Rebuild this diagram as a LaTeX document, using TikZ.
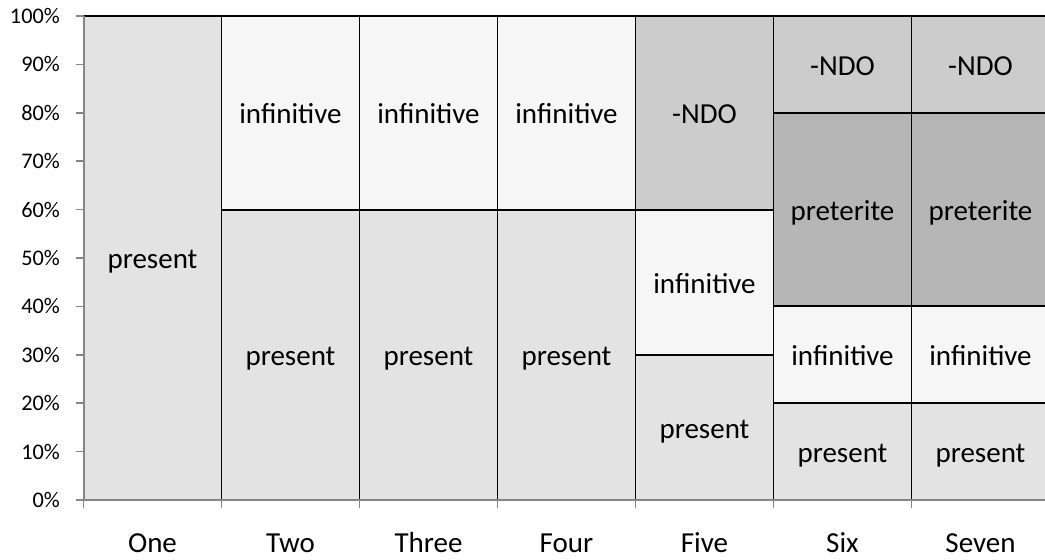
\documentclass[tikz,border=0pt]{standalone}
\usepackage{fontspec}
\setmainfont{Carlito}
\usepackage{tikz}

\definecolor{presentgray}{RGB}{227,227,227}
\definecolor{infgray}{RGB}{246,246,246}
\definecolor{ndogray}{RGB}{204,204,204}
\definecolor{pretgray}{RGB}{182,182,182}
\definecolor{axisgray}{RGB}{134,134,134}

\begin{document}
\begin{tikzpicture}[x=1pt, y=1pt, line join=round,
    seg/.style={draw=black, line width=1.9pt},
    axis/.style={draw=axisgray, line width=2pt},
    tick/.style={draw=axisgray, line width=1.5pt},
    lbl/.style={font=\fontsize{29}{34}\selectfont, anchor=base, yshift=-11, inner sep=0pt},
    catlbl/.style={font=\fontsize{29}{34}\selectfont, anchor=base, inner sep=0pt},
    ylbl/.style={font=\fontsize{22.3}{27}\selectfont, anchor=base east, inner sep=0pt}]
      \def\xo{83.5}
      \def\yo{60}
      \def\w{138}
      \def\h{4.84}

      \useasboundingbox (0,0) rectangle (1045,560);

      \pgfmathsetmacro\xa{\xo}
      \pgfmathsetmacro\xb{\xo+\w}
      \pgfmathsetmacro\xc{\xo+2*\w}
      \pgfmathsetmacro\xd{\xo+3*\w}
      \pgfmathsetmacro\xe{\xo+4*\w}
      \pgfmathsetmacro\xf{\xo+5*\w}
      \pgfmathsetmacro\xg{\xo+6*\w}

      % Column One
      \draw[seg, fill=presentgray] (\xa,\yo) rectangle (\xa+\w,\yo+100*\h);
      \node[lbl] (onepresent) at (\xa+0.5*\w,\yo+50*\h) {present};

      % Column Two
      \draw[seg, fill=presentgray] (\xb,\yo) rectangle (\xb+\w,\yo+60*\h);
      \draw[seg, fill=infgray] (\xb,\yo+60*\h) rectangle (\xb+\w,\yo+100*\h);
      \node[lbl] (twopresent) at (\xb+0.5*\w,\yo+30*\h) {present};
      \node[lbl] (twoinf) at (\xb+0.5*\w,\yo+80*\h) {infinitive};

      % Column Three
      \draw[seg, fill=presentgray] (\xc,\yo) rectangle (\xc+\w,\yo+60*\h);
      \draw[seg, fill=infgray] (\xc,\yo+60*\h) rectangle (\xc+\w,\yo+100*\h);
      \node[lbl] (threepresent) at (\xc+0.5*\w,\yo+30*\h) {present};
      \node[lbl] (threeinf) at (\xc+0.5*\w,\yo+80*\h) {infinitive};

      % Column Four
      \draw[seg, fill=presentgray] (\xd,\yo) rectangle (\xd+\w,\yo+60*\h);
      \draw[seg, fill=infgray] (\xd,\yo+60*\h) rectangle (\xd+\w,\yo+100*\h);
      \node[lbl] (fourpresent) at (\xd+0.5*\w,\yo+30*\h) {present};
      \node[lbl] (fourinf) at (\xd+0.5*\w,\yo+80*\h) {infinitive};

      % Column Five
      \draw[seg, fill=presentgray] (\xe,\yo) rectangle (\xe+\w,\yo+30*\h);
      \draw[seg, fill=infgray] (\xe,\yo+30*\h) rectangle (\xe+\w,\yo+60*\h);
      \draw[seg, fill=ndogray] (\xe,\yo+60*\h) rectangle (\xe+\w,\yo+100*\h);
      \node[lbl] (fivepresent) at (\xe+0.5*\w,\yo+15*\h) {present};
      \node[lbl] (fiveinf) at (\xe+0.5*\w,\yo+45*\h) {infinitive};
      \node[lbl] (fivendo) at (\xe+0.5*\w,\yo+80*\h) {-NDO};

      % Column Six
      \draw[seg, fill=presentgray] (\xf,\yo) rectangle (\xf+\w,\yo+20*\h);
      \draw[seg, fill=infgray] (\xf,\yo+20*\h) rectangle (\xf+\w,\yo+40*\h);
      \draw[seg, fill=pretgray] (\xf,\yo+40*\h) rectangle (\xf+\w,\yo+80*\h);
      \draw[seg, fill=ndogray] (\xf,\yo+80*\h) rectangle (\xf+\w,\yo+100*\h);
      \node[lbl] (sixpresent) at (\xf+0.5*\w,\yo+10*\h) {present};
      \node[lbl] (sixinf) at (\xf+0.5*\w,\yo+30*\h) {infinitive};
      \node[lbl] (sixpret) at (\xf+0.5*\w,\yo+60*\h) {preterite};
      \node[lbl] (sixndo) at (\xf+0.5*\w,\yo+90*\h) {-NDO};

      % Column Seven
      \draw[seg, fill=presentgray] (\xg,\yo) rectangle (\xg+\w,\yo+20*\h);
      \draw[seg, fill=infgray] (\xg,\yo+20*\h) rectangle (\xg+\w,\yo+40*\h);
      \draw[seg, fill=pretgray] (\xg,\yo+40*\h) rectangle (\xg+\w,\yo+80*\h);
      \draw[seg, fill=ndogray] (\xg,\yo+80*\h) rectangle (\xg+\w,\yo+100*\h);
      \node[lbl] (sevenpresent) at (\xg+0.5*\w,\yo+10*\h) {present};
      \node[lbl] (seveninf) at (\xg+0.5*\w,\yo+30*\h) {infinitive};
      \node[lbl] (sevenpret) at (\xg+0.5*\w,\yo+60*\h) {preterite};
      \node[lbl] (sevenndo) at (\xg+0.5*\w,\yo+90*\h) {-NDO};

      % Axes and ticks
      \draw[axis] (\xo,\yo+100*\h) -- (\xo,\yo) -- (\xo+7*\w,\yo);
      \foreach \p in {0,10,...,100} {
        \draw[tick] (\xo-8,\yo+\p*\h) -- (\xo,\yo+\p*\h);
        \node[ylbl] (y\p) at (60,\yo+\p*\h-7.5) {\p\%};
      }
      \foreach \k in {0,...,7}
        \draw[tick] (\xo+\k*\w,\yo) -- (\xo+\k*\w,\yo-8);

      % Category labels
      \node[catlbl] (catone) at (\xa+0.5*\w,7) {One};
      \node[catlbl] (cattwo) at (\xb+0.5*\w,7) {Two};
      \node[catlbl] (catthree) at (\xc+0.5*\w,7) {Three};
      \node[catlbl] (catfour) at (\xd+0.5*\w,7) {Four};
      \node[catlbl] (catfive) at (\xe+0.5*\w,7) {Five};
      \node[catlbl] (catsix) at (\xf+0.5*\w,7) {Six};
      \node[catlbl] (catseven) at (\xg+0.5*\w,7) {Seven};
\end{tikzpicture}
\end{document}
